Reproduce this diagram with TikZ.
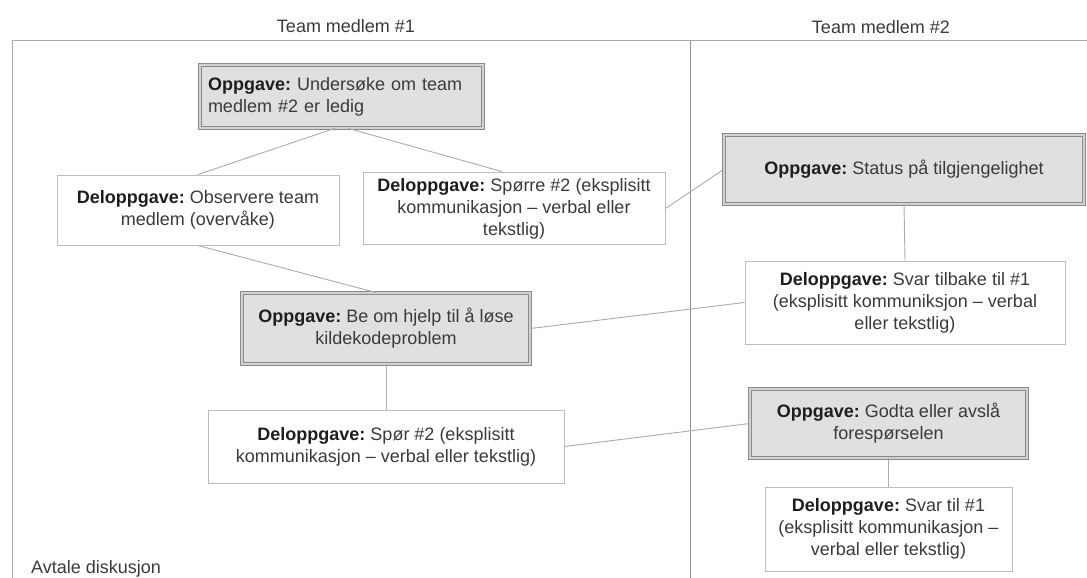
\documentclass[tikz,border=0pt]{standalone}
\usepackage{fontspec}
\setmainfont{Liberation Sans}
\definecolor{taskfill}{HTML}{E0E0E0}
\definecolor{taskedge}{HTML}{8A8A8A}
\definecolor{taskgap}{HTML}{D2D2D2}
\definecolor{subedge}{HTML}{BDBDBD}
\definecolor{linkc}{HTML}{ABABAB}
\definecolor{framec}{HTML}{A8A8A8}
\definecolor{dividerc}{HTML}{8E8E8E}
\definecolor{txt}{HTML}{3A3A3A}
\definecolor{boldtxt}{HTML}{1E1E1E}
\newcommand{\lbl}[1]{\textcolor{boldtxt}{\textbf{#1}}}
\frenchspacing
\begin{document}
\begin{tikzpicture}[x=1pt,y=-1pt,
  font=\fontsize{18}{22}\selectfont, text=txt,
  task/.style={draw=taskedge, line width=0.9pt, double=taskgap,
    double distance=1.4pt, fill=taskfill, align=center, inner sep=6pt},
  subtask/.style={draw=subedge, line width=1pt, fill=white,
    align=center, inner sep=6pt},
  link/.style={draw=linkc, line width=0.9pt},
  heading/.style={inner sep=0pt}]
\useasboundingbox (0,0) rectangle (1087,578);

% swimlane frame and lane divider
\draw[framec, line width=1pt] (1087,41) -- (12,41) -- (12,578);
\draw[dividerc, line width=1pt] (690,41) -- (690,578);

% lane headings and footer
\node[heading] (h1) at (346,26) {Team medlem \#1};
\node[heading] (h2) at (881,27) {Team medlem \#2};
\node[heading, anchor=west] (foot) at (31,569) {Avtale diskusjon};

% tasks and subtasks
\node[task, minimum width=283pt, minimum height=63pt, text width=267pt,
  align=left, inner xsep=8pt] (b1) at (341.5,96.5)
  {\lbl{Oppgave:} Undersøke om team\\medlem \#2 er ledig};
\node[subtask, minimum width=282pt, minimum height=70pt] (b2) at (198,210)
  {\lbl{Deloppgave:} Observere team\\medlem (overvåke)};
\node[subtask, minimum width=302pt, minimum height=67pt] (b3) at (514,208.5)
  {\lbl{Deloppgave:} Spørre \#2 (eksplisitt\\kommunikasjon – verbal eller\\tekstlig)};
\node[task, minimum width=360pt, minimum height=69pt] (b4) at (904,169.5)
  {\lbl{Oppgave:} Status på tilgjengelighet};
\node[task, minimum width=288pt, minimum height=71pt] (b5) at (386,328.5)
  {\lbl{Oppgave:} Be om hjelp til å løse\\kildekodeproblem};
\node[subtask, minimum width=320pt, minimum height=83pt] (b6) at (905,302.5)
  {\lbl{Deloppgave:} Svar tilbake til \#1\\(eksplisitt kommuniksjon – verbal\\eller tekstlig)};
\node[subtask, minimum width=356pt, minimum height=73pt] (b7) at (386,446.5)
  {\lbl{Deloppgave:} Spør \#2 (eksplisitt\\kommunikasjon – verbal eller tekstlig)};
\node[task, minimum width=277pt, minimum height=69pt] (b8) at (888.5,423.5)
  {\lbl{Oppgave:} Godta eller avslå\\forespørselen};
\node[subtask, minimum width=247pt, minimum height=84pt] (b9) at (888.5,529)
  {\lbl{Deloppgave:} Svar til \#1\\(eksplisitt kommunikasjon –\\verbal eller tekstlig)};

% connectors
\draw[link] ([xshift=-7pt]b1.south) -- (b2.north);
\draw[link] ([xshift=7pt]b1.south) -- ([xshift=-12pt]b3.north);
\draw[link] (b2.south) -- ([xshift=-10pt]b5.north);
\draw[link] (b3.east) -- (b4.west);
\draw[link] (b4.south) -- (b6.north);
\draw[link] (b5.east) -- (b6.west);
\draw[link] (b5.south) -- (b7.north);
\draw[link] (b7.east) -- (b8.west);
\draw[link] (b8.south) -- (b9.north);
\end{tikzpicture}
\end{document}
